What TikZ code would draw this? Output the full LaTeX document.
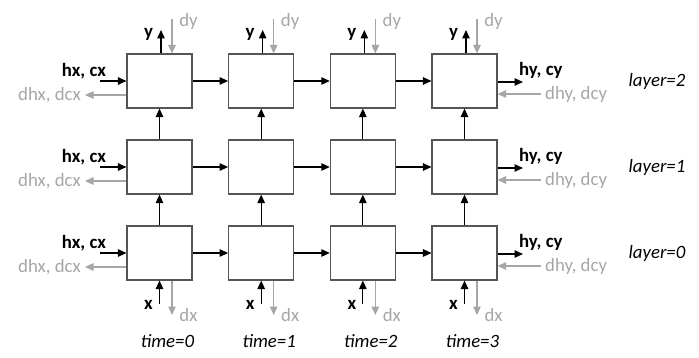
\documentclass[tikz,border=0pt]{standalone}
\usepackage{fontspec}
\setmainfont{Carlito}
\usetikzlibrary{arrows.meta,calc}
\definecolor{lgray}{HTML}{A6A6A6}
\definecolor{boxc}{HTML}{555555}
\tikzset{
 cell/.style={draw=boxc,line width=1.1pt,minimum width=65pt,minimum height=54pt,inner sep=0pt},
 fwd/.style={-{Triangle[length=8.5pt,width=7.5pt]},line width=1.1pt,black},
 bwd/.style={-{Triangle[length=8.5pt,width=7.5pt]},line width=1.1pt,lgray},
 blab/.style={font=\fontsize{18.8}{19}\selectfont\bfseries,text=black,inner sep=0pt},
 glab/.style={font=\fontsize{18.8}{19}\selectfont,text=lgray,inner sep=0pt},
 ilab/.style={font=\fontsize{18.8}{19}\selectfont\itshape,text=black,inner sep=0pt},
}
\begin{document}
\begin{tikzpicture}[x=1pt,y=-1pt]
\useasboundingbox (0,0) rectangle (699,358);
\foreach \i in {0,...,3} {
  \foreach \j/\t in {2/54,1/140,0/226} {
    \pgfmathsetmacro\cx{159.5+101.67*\i}
    \node[cell] (b\i\j) at (\cx,\t+27) {};
  }
}
\foreach \j in {0,1,2} {
  \foreach \i/\n in {0/1,1/2,2/3} {
    \draw[fwd] (b\i\j) -- (b\n\j);
  }
}
\foreach \i in {0,...,3} {
  \draw[fwd] (b\i0) -- (b\i1);
  \draw[fwd] (b\i1) -- (b\i2);
}
\foreach \j/\t in {2/54,1/140,0/226} {
  \coordinate (hin\j) at (100,\t+27);
  \draw[fwd] (hin\j) -- (hin\j -| b0\j.west);
  \coordinate (dhx\j) at (85,\t+41);
  \draw[bwd] (dhx\j -| b0\j.west) -- (dhx\j);
  \node[blab] (lhx\j) at (84,\t+17) {hx, cx};
  \node[glab,anchor=east] (ldhx\j) at (81,\t+41) {dhx, dcx};
  \coordinate (hout\j) at (523,\t+28);
  \draw[fwd] (hout\j -| b3\j.east) -- (hout\j);
  \coordinate (dhy\j) at (541,\t+40);
  \draw[bwd] (dhy\j) -- (dhy\j -| b3\j.east);
  \node[blab,anchor=west] (lhy\j) at (519,\t+16) {hy, cy};
  \node[glab,anchor=west] (ldhy\j) at (545,\t+40) {dhy, dcy};
  \node[ilab] (lay\j) at (657,\t+27) {layer=\j};
}
\foreach \i in {0,...,3} {
  \pgfmathsetmacro\cx{159.5+101.67*\i}
  \coordinate (yo\i) at (\cx+1.5,30);
  \draw[fwd] (yo\i |- b\i2.north) -- (yo\i);
  \coordinate (dy\i) at (\cx+12.5,19);
  \draw[bwd] (dy\i) -- (dy\i |- b\i2.north);
  \node[blab] (ly\i) at (\cx-11,34) {y};
  \node[glab] (ldy\i) at (\cx+29,21) {dy};
  \coordinate (xi\i) at (\cx,304);
  \draw[fwd] (xi\i) -- (xi\i |- b\i0.south);
  \coordinate (dx\i) at (\cx+12.5,315);
  \draw[bwd] (dx\i |- b\i0.south) -- (dx\i);
  \node[blab] (lx\i) at (\cx-11,305) {x};
  \node[glab] (ldx\i) at (\cx+29,315) {dx};
  \node[ilab] (lt\i) at (\cx+8,341) {time=\i};
}
\end{tikzpicture}
\end{document}
